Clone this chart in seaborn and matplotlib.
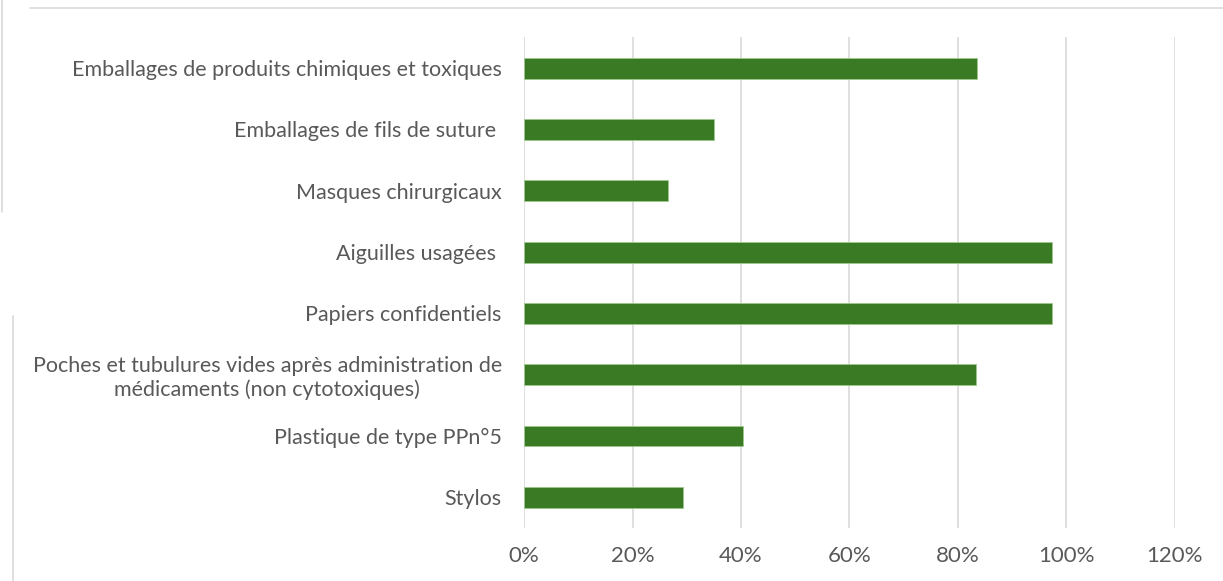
import matplotlib
matplotlib.use("Agg")
import matplotlib.pyplot as plt
import seaborn as sns
import pandas as pd
from matplotlib.ticker import PercentFormatter
from matplotlib.lines import Line2D

categories = [
    "Emballages de produits chimiques et toxiques",
    "Emballages de fils de suture ",
    "Masques chirurgicaux",
    "Aiguilles usagées ",
    "Papiers confidentiels",
    "Poches et tubulures vides après administration de\nmédicaments (non cytotoxiques)",
    "Plastique de type PPn°5",
    "Stylos",
]
values = [0.835, 0.35, 0.265, 0.973, 0.973, 0.833, 0.403, 0.293]
xticks = [0, 0.2, 0.4, 0.6, 0.8, 1.0, 1.2]

df = pd.DataFrame({"cat": categories, "val": values})

sns.set_theme(style="white")
plt.rcParams["font.family"] = ["Lato", "DejaVu Sans"]

fig = plt.figure(figsize=(12.23, 5.81), dpi=100)
ax = fig.add_axes([0.4285, 0.0912, 0.5322, 0.8443])

sns.barplot(data=df, x="val", y="cat", orient="h", color="#3B7A24",
            saturation=1, width=0.34, edgecolor="#9cc88c", linewidth=0.6,
            ax=ax, zorder=3)

ax.set_xlim(0, 1.2)
ax.set_xticks(xticks)
ax.xaxis.set_major_formatter(PercentFormatter(1.0, decimals=0))
ax.grid(axis="x", color="#D9D9D9", linewidth=1.2, zorder=0)
ax.grid(axis="y", visible=False)
ax.set_axisbelow(True)
for s in ax.spines.values():
    s.set_visible(False)
ax.set_xlabel("")
ax.set_ylabel("")
ax.tick_params(axis="x", length=0, pad=13, labelsize=16, labelcolor="#595959")
ax.tick_params(axis="y", length=0, pad=16, labelsize=15.5, labelcolor="#595959")
for lab in ax.get_yticklabels():
    lab.set_multialignment("center")

# frame remnants of the original screenshot
fig.add_artist(Line2D([30/1223, 1], [1 - 8/581, 1 - 8/581], transform=fig.transFigure,
                      color="#D9D9D9", linewidth=1.2))
fig.add_artist(Line2D([2/1223, 2/1223], [1, 1 - 212/581], transform=fig.transFigure,
                      color="#D9D9D9", linewidth=1.2))
fig.add_artist(Line2D([13/1223, 13/1223], [1 - 316/581, 0], transform=fig.transFigure,
                      color="#D9D9D9", linewidth=1.2))

fig.savefig("out.png", dpi=100)
